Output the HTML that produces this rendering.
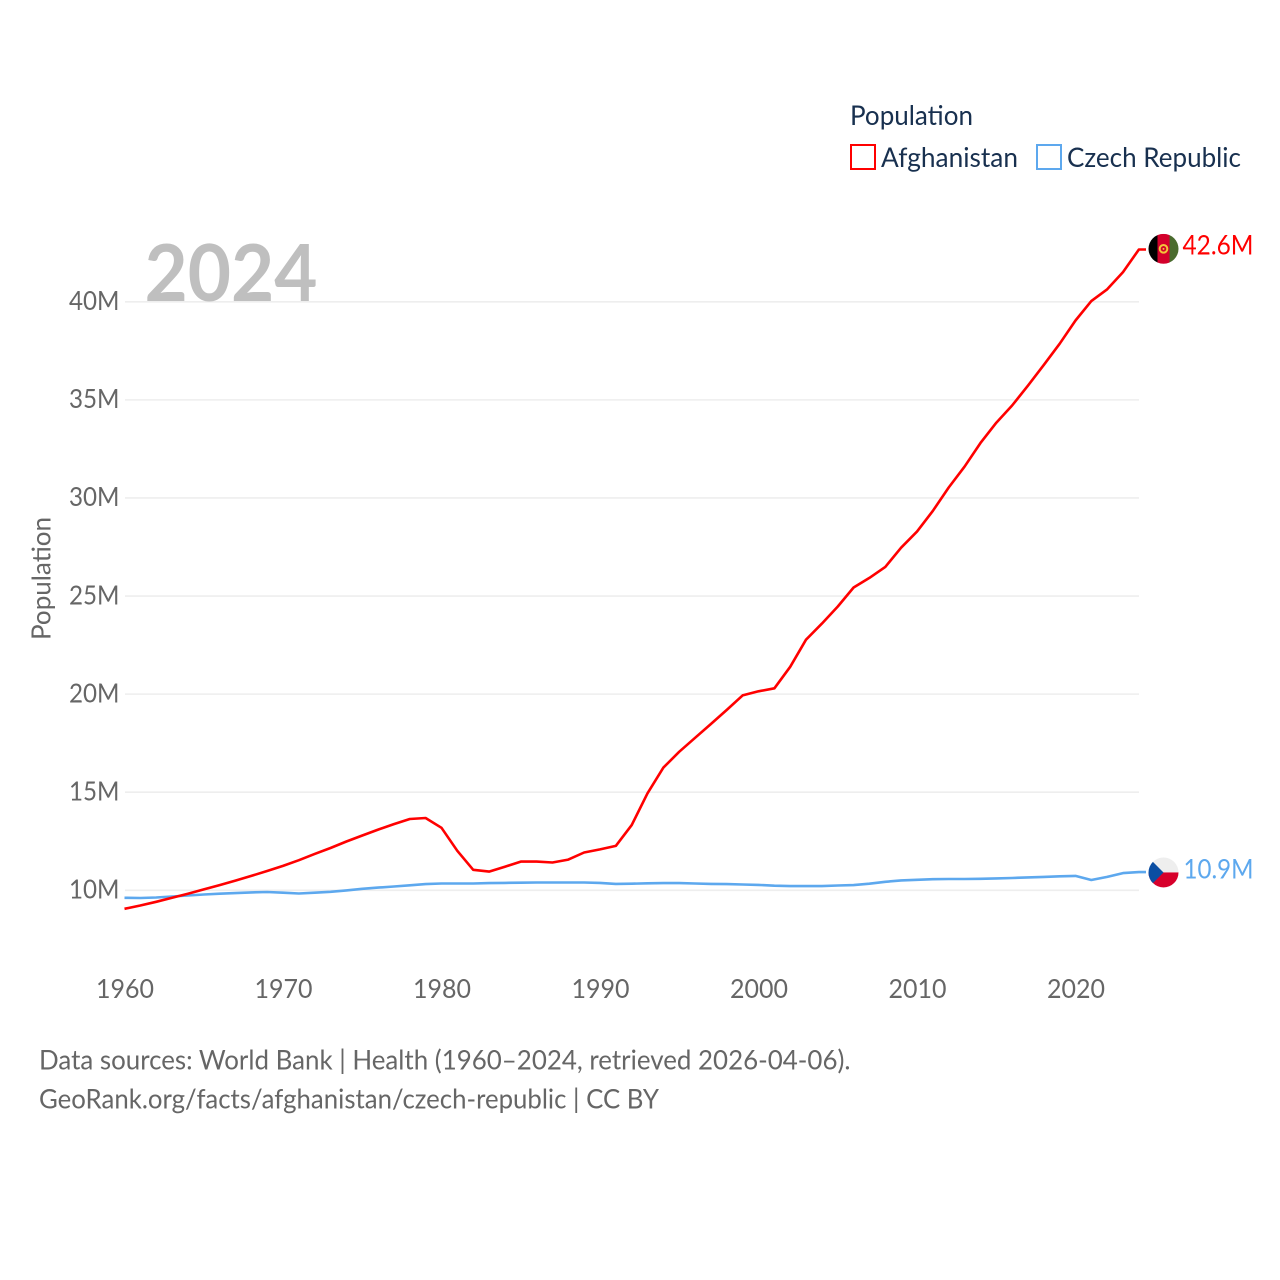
<!DOCTYPE html>
<html lang="en">
<head>
<meta charset="utf-8">
<title>Population: Afghanistan vs Czech Republic</title>
<style>
html,body{margin:0;padding:0;background:#fff;}
svg{display:block;font-family:"Lato","Carlito","Liberation Sans",sans-serif;}
</style>
</head>
<body>
<svg id="chart" xmlns="http://www.w3.org/2000/svg" width="1280" height="1280" viewBox="0 0 1280 1280">
  <rect x="0" y="0" width="1280" height="1280" fill="#fff"/>
  <g id="grid"></g>
  <text x="144.5" y="301" font-size="79" font-weight="700" fill="#bfbfbf" textLength="173" lengthAdjust="spacingAndGlyphs">2024</text>
  <g id="yticks"></g>
  <g id="xticks"></g>
  <text transform="translate(50.5,640) rotate(-90)" font-size="26" fill="#666" textLength="123" lengthAdjust="spacingAndGlyphs">Population</text>
  <g id="series"></g>

  <g>
    <text x="850" y="125" font-size="27" fill="#18304f" textLength="123" lengthAdjust="spacingAndGlyphs">Population</text>
    <rect x="851" y="145" width="24" height="24" fill="#fff" stroke="#ff0000" stroke-width="2"/>
    <text x="881" y="167" font-size="27" fill="#18304f" textLength="137" lengthAdjust="spacingAndGlyphs">Afghanistan</text>
    <rect x="1037" y="145" width="24" height="24" fill="#fff" stroke="#5da8ee" stroke-width="2"/>
    <text x="1067" y="167" font-size="27" fill="#18304f" textLength="174" lengthAdjust="spacingAndGlyphs">Czech Republic</text>
  </g>

  <defs>
    <clipPath id="flag-clip"><circle cx="0" cy="0" r="15"/></clipPath>
  </defs>
  <g id="flags"></g>

  <text x="39" y="1069.5" font-size="27" fill="#666" textLength="811.5" lengthAdjust="spacingAndGlyphs">Data sources: World Bank | Health (1960–2024, retrieved 2026-04-06).</text>
  <text x="39" y="1108.5" font-size="27" fill="#666" textLength="620" lengthAdjust="spacingAndGlyphs">GeoRank.org/facts/afghanistan/czech-republic | CC BY</text>
</svg>
<script>
const years = [1960,1961,1962,1963,1964,1965,1966,1967,1968,1969,1970,1971,1972,1973,1974,1975,1976,1977,1978,1979,1980,1981,1982,1983,1984,1985,1986,1987,1988,1989,1990,1991,1992,1993,1994,1995,1996,1997,1998,1999,2000,2001,2002,2003,2004,2005,2006,2007,2008,2009,2010,2011,2012,2013,2014,2015,2016,2017,2018,2019,2020,2021,2022,2023,2024];
const afghanistanValues = [9.04,9.21,9.40,9.60,9.81,10.03,10.25,10.48,10.72,10.97,11.23,11.52,11.84,12.14,12.47,12.78,13.08,13.36,13.62,13.67,13.17,12.00,11.03,10.94,11.19,11.45,11.45,11.40,11.55,11.91,12.07,12.25,13.31,14.93,16.24,17.05,17.76,18.46,19.18,19.92,20.13,20.28,21.38,22.76,23.58,24.45,25.42,25.91,26.47,27.45,28.27,29.33,30.52,31.58,32.78,33.82,34.70,35.71,36.77,37.85,39.03,40.02,40.62,41.50,42.65];
const czechValues = [9.60,9.59,9.62,9.67,9.72,9.77,9.81,9.84,9.88,9.90,9.86,9.82,9.86,9.91,9.98,10.06,10.12,10.18,10.24,10.30,10.33,10.33,10.33,10.35,10.36,10.37,10.38,10.38,10.38,10.38,10.36,10.31,10.32,10.34,10.35,10.35,10.33,10.31,10.30,10.28,10.26,10.22,10.20,10.20,10.20,10.23,10.25,10.32,10.42,10.49,10.52,10.55,10.56,10.56,10.57,10.59,10.61,10.64,10.67,10.70,10.72,10.51,10.67,10.86,10.91];
const yTickValues = [10,15,20,25,30,35,40];
const yTickLabels = ["10M","15M","20M","25M","30M","35M","40M"];
const xTickValues = [1960,1970,1980,1990,2000,2010,2020];
const seriesEndLabels = ["42.6M","10.9M"];

const NS = 'http://www.w3.org/2000/svg';
const PLOT_LEFT = 125, PLOT_RIGHT = 1139;
function xScale(year){ return 124.5 + (year - 1960) * (951 / 60); }
function yScale(value){ return 890 - (value - 10) * (588.5 / 30); }
function make(tag, attrs, parent){
  const el = document.createElementNS(NS, tag);
  for (const k in attrs) el.setAttribute(k, attrs[k]);
  parent.appendChild(el);
  return el;
}

const grid = document.getElementById('grid');
const yticks = document.getElementById('yticks');
const xticks = document.getElementById('xticks');
const series = document.getElementById('series');
const flags = document.getElementById('flags');

yTickValues.forEach(function(v, i){
  const line = make('line', {x1: PLOT_LEFT, x2: PLOT_RIGHT, y1: yScale(v) + 0.3, y2: yScale(v) + 0.3, stroke: '#eeeeee', 'stroke-width': 1.6}, grid);
  
  
  const t = make('text', {x: 119.5, y: yScale(v) + 8.5, 'text-anchor': 'end', 'font-size': 26, fill: '#666', textLength: 50.5, lengthAdjust: 'spacingAndGlyphs'}, yticks);
  
  
  t.textContent = yTickLabels[i];
});

xTickValues.forEach(function(v){
  const t = make('text', {x: xScale(v) + 0.5, y: 998, 'text-anchor': 'middle', 'font-size': 26, fill: '#666', textLength: 58, lengthAdjust: 'spacingAndGlyphs'}, xticks);
  
  
  t.textContent = String(v);
});

function drawSeries(values, color, seriesName){
  const pts = values.map(function(v, i){ return xScale(years[i]).toFixed(1) + ',' + yScale(v).toFixed(1); });
  const last = values[values.length - 1];
  pts.push('1146,' + yScale(last).toFixed(1));
  const line = make('polyline', {points: pts.join(' '), fill: 'none', stroke: color, 'stroke-width': 2.6, 'stroke-linejoin': 'round'}, series);
  
  
}
drawSeries(czechValues, '#5da8ee', 'czech-republic-line');
drawSeries(afghanistanValues, '#ff0000', 'afghanistan-line');

function drawAfghanFlag(cy){
  const g = make('g', {transform: 'translate(1163.5,' + cy + ')', 'clip-path': 'url(#flag-clip)'}, flags);
  
  
  make('rect', {x: -15, y: -15, width: 9, height: 30, fill: '#000'}, g);
  make('rect', {x: -6, y: -15, width: 12, height: 30, fill: '#d3002b'}, g);
  make('rect', {x: 6, y: -15, width: 9, height: 30, fill: '#4a6b2e'}, g);
  make('circle', {cx: 0, cy: 0, r: 3.8, fill: 'none', stroke: '#f3c43a', 'stroke-width': 2}, g);
  make('circle', {cx: 0, cy: 0, r: 1, fill: '#f3c43a'}, g);
}
function drawCzechFlag(cy){
  const g = make('g', {transform: 'translate(1163.5,' + cy + ')', 'clip-path': 'url(#flag-clip)'}, flags);
  
  
  make('rect', {x: -15, y: -15, width: 30, height: 15, fill: '#eeeeee'}, g);
  make('rect', {x: -15, y: 0, width: 30, height: 15, fill: '#d7002b'}, g);
  make('polygon', {points: '-15,-15 0,0 -15,15', fill: '#0b4ea2'}, g);
}
const afY = yScale(afghanistanValues[afghanistanValues.length - 1]);
const czY = yScale(czechValues[czechValues.length - 1]);
drawAfghanFlag(afY - 0.7);
drawCzechFlag(czY + 0.3);

const lblA = make('text', {x: 1182.5, y: afY + 5, 'font-size': 27, fill: '#ff0000', textLength: 71, lengthAdjust: 'spacingAndGlyphs'}, flags);


lblA.textContent = seriesEndLabels[0];
const lblC = make('text', {x: 1183.5, y: czY + 6.5, 'font-size': 27, fill: '#5da8ee', textLength: 70, lengthAdjust: 'spacingAndGlyphs'}, flags);


lblC.textContent = seriesEndLabels[1];
</script>
</body>
</html>
